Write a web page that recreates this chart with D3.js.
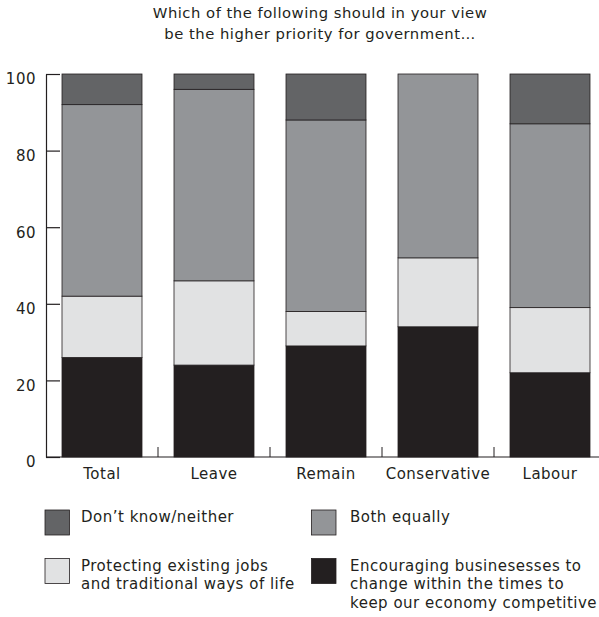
<!DOCTYPE html>
<html>
<head>
<meta charset="utf-8">
<script src="https://cdn.jsdelivr.net/npm/d3@7"></script>
<style>
  html, body { margin: 0; padding: 0; background: #ffffff; }
  svg { display: block; }
  text { font-family: "DejaVu Sans", "Open Sans", sans-serif; fill: #231f20; letter-spacing: 0.5px; }
</style>
</head>
<body>
<svg id="chart" width="599" height="617"></svg>
<script>
// Survey groups along the x axis
const categories = ["Total", "Leave", "Remain", "Conservative", "Labour"];

// Share of respondents (%) per answer, bottom segment first
const encouraging = [26, 24, 29, 34, 22];
const protecting  = [16, 22, 9, 18, 17];
const bothEqually = [50, 50, 50, 48, 48];
const dontKnow    = [8, 4, 12, 0, 13];

const yTicks = [0, 20, 40, 60, 80, 100];

const titleLines = [
  "Which of the following should in your view",
  "be the higher priority for government\u2026"
];

// Series definitions: key, legend text lines, fill
const series = [
  { key: "encouraging", values: encouraging, color: "#231f20",
    label: ["Encouraging businesesses to", "change within the times to", "keep our economy competitive"] },
  { key: "protecting", values: protecting, color: "#e1e2e3",
    label: ["Protecting existing jobs", "and traditional ways of life"] },
  { key: "both", values: bothEqually, color: "#939598",
    label: ["Both equally"] },
  { key: "dontknow", values: dontKnow, color: "#636466",
    label: ["Don\u2019t know/neither"] }
];

const rows = categories.map((c, i) => {
  const r = { category: c };
  series.forEach(s => { r[s.key] = s.values[i]; });
  return r;
});

const svg = d3.select("#chart");
const fontSize = 15;

// Scales
const axisX = 46, baseY = 457, topY = 74;
const x = d3.scaleBand()
  .domain(categories)
  .range([axisX, axisX + 112 * categories.length])
  .paddingInner(32 / 112)
  .paddingOuter(16 / 112);

const y = d3.scaleLinear().domain([0, 100]).range([baseY, topY]);

// Title
svg.append("g")
  .selectAll("text")
  .data(titleLines)
  .join("text")
  .attr("x", 320)
  .attr("y", (d, i) => 18 + i * 21)
  .attr("text-anchor", "middle")
  .style("font-size", "14.8px")
  .text(d => d);

// Stacked bars
const stacked = d3.stack().keys(series.map(s => s.key))(rows);
const colorOf = new Map(series.map(s => [s.key, s.color]));

svg.append("g")
  .selectAll("g")
  .data(stacked)
  .join("g")
  .attr("fill", d => colorOf.get(d.key))
  .selectAll("rect")
  .data(d => d.filter(p => p[1] - p[0] > 0))
  .join("rect")
  .attr("x", d => x(d.data.category))
  .attr("width", x.bandwidth())
  .attr("y", d => y(d[1]))
  .attr("height", d => y(d[0]) - y(d[1]))
  .attr("stroke", "#231f20")
  .attr("stroke-width", 0.8);

// Y axis: ticks point inward, labels sit a little below each tick
const yAxis = d3.axisLeft(y)
  .tickValues(yTicks)
  .tickSizeInner(-14)
  .tickSizeOuter(0)
  .tickPadding(10);

svg.append("g")
  .attr("transform", `translate(${axisX},0)`)
  .call(yAxis)
  .call(g => g.select(".domain").attr("stroke", "#231f20").attr("stroke-width", 1.2))
  .call(g => g.selectAll(".tick line").attr("stroke", "#231f20").attr("stroke-width", 1.2))
  .call(g => g.selectAll(".tick text")
    .attr("dy", "0.66em")
    .style("font-size", fontSize + "px")
    .style("font-family", null)
    .attr("fill", "#231f20"));

// X axis: baseline, separators between groups, group labels
svg.append("line")
  .attr("x1", axisX).attr("x2", 599)
  .attr("y1", baseY).attr("y2", baseY)
  .attr("stroke", "#231f20").attr("stroke-width", 1.2);

svg.append("g")
  .selectAll("line")
  .data(categories.slice(1))
  .join("line")
  .attr("x1", d => x(d) - x.step() * x.paddingInner() / 2)
  .attr("x2", d => x(d) - x.step() * x.paddingInner() / 2)
  .attr("y1", baseY)
  .attr("y2", baseY - 10)
  .attr("stroke", "#231f20")
  .attr("stroke-width", 1);

const xAxis = d3.axisBottom(x).tickSize(0).tickPadding(11.5);
svg.append("g")
  .attr("transform", `translate(0,${baseY})`)
  .call(xAxis)
  .call(g => g.select(".domain").remove())
  .call(g => g.selectAll(".tick text")
    .style("font-size", fontSize + "px")
    .style("font-family", null)
    .attr("fill", "#231f20"));

// Legend, two columns by two rows
const legendOrder = ["dontknow", "both", "protecting", "encouraging"];
const legendPos = [
  { sx: 45, sy: 510 }, { sx: 311.5, sy: 510 },
  { sx: 45, sy: 558.5 }, { sx: 311.5, sy: 558.5 }
];
const byKey = new Map(series.map(s => [s.key, s]));

const legend = svg.append("g")
  .selectAll("g")
  .data(legendOrder.map((k, i) => ({ s: byKey.get(k), p: legendPos[i] })))
  .join("g")
  .attr("transform", d => `translate(${d.p.sx},${d.p.sy})`);

legend.append("rect")
  .attr("width", 24.5).attr("height", 25)
  .attr("fill", d => d.s.color)
  .attr("stroke", "#231f20")
  .attr("stroke-width", 0.8);

legend.each(function (d) {
  const tx = d.p.sx < 100 ? 36 : 38.5;
  d3.select(this).selectAll("text")
    .data(d.s.label)
    .join("text")
    .attr("x", tx)
    .attr("y", (t, i) => 12 + i * 18.5)
    .style("font-size", fontSize + "px")
    .text(t => t);
});
</script>
</body>
</html>
